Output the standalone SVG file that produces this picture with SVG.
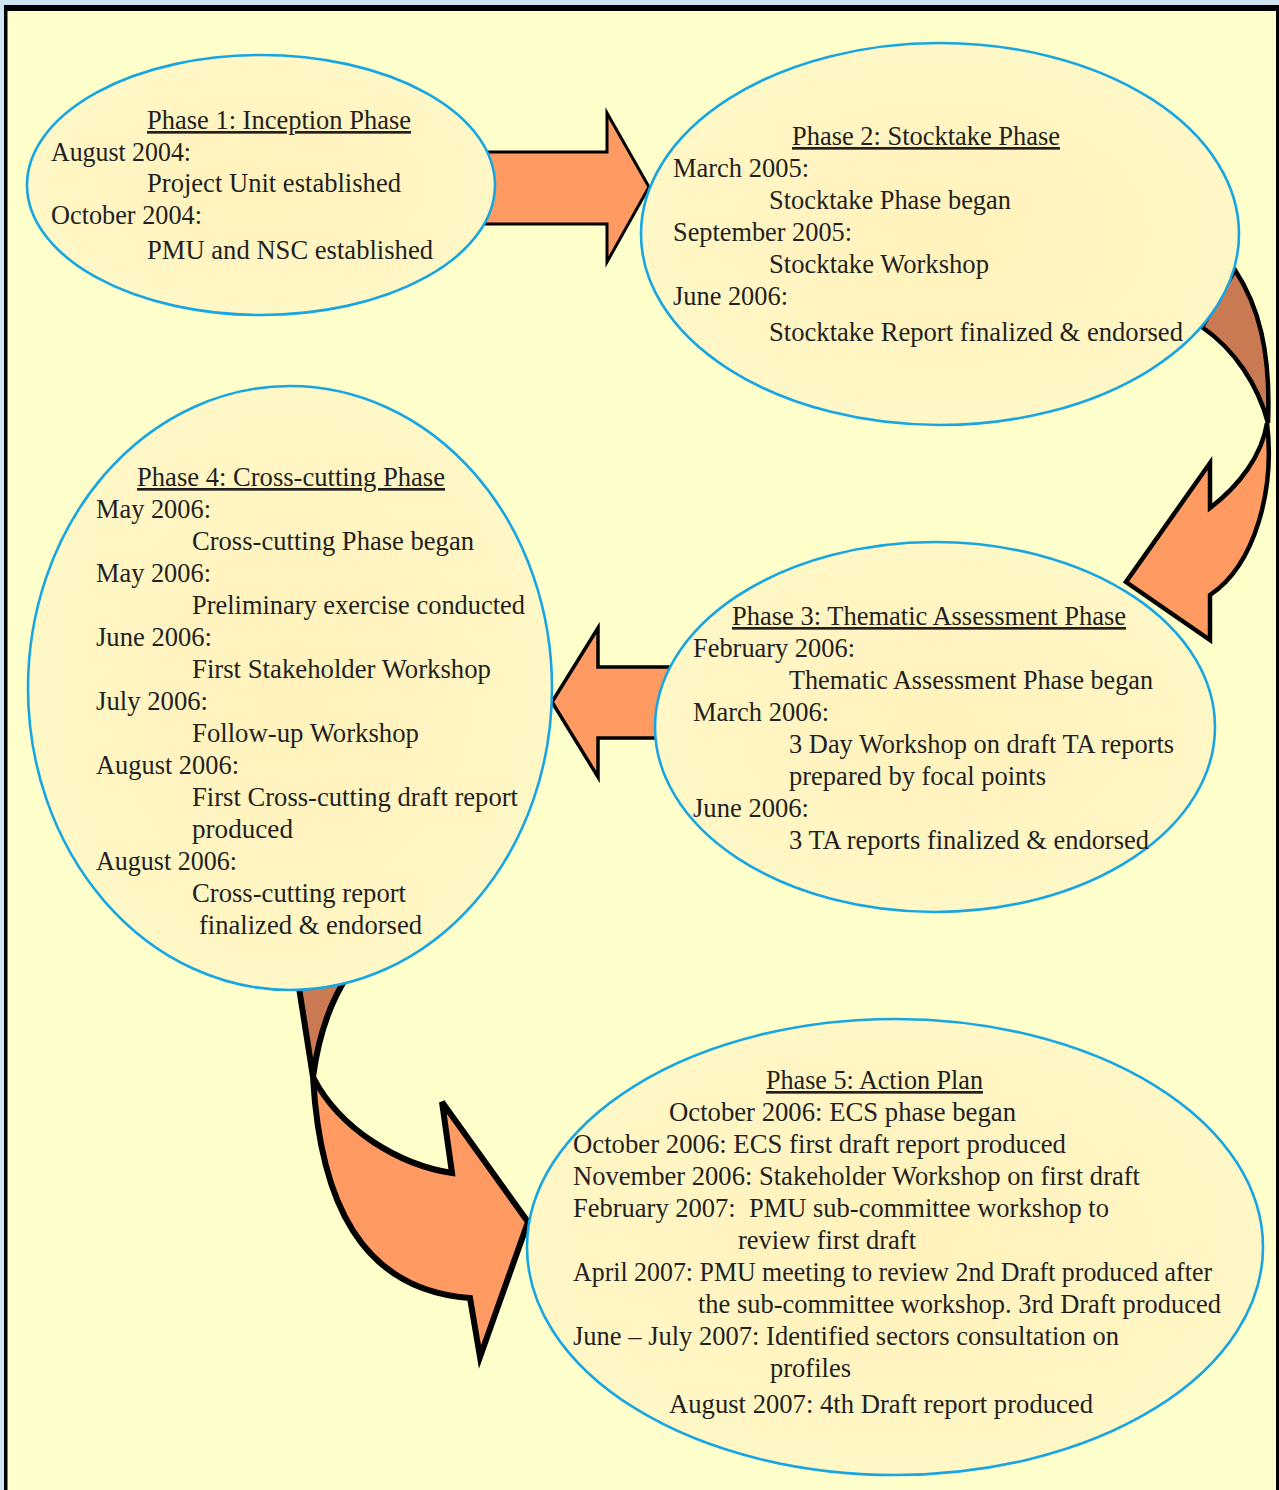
<svg xmlns="http://www.w3.org/2000/svg" width="1279" height="1490" viewBox="0 0 1279 1490">
<defs>
<radialGradient id="eg" cx="50%" cy="50%" r="60%">
<stop offset="0" stop-color="#FFF2BC"/>
<stop offset="1" stop-color="#FFF8C8"/>
</radialGradient>
<style>
.node ellipse{fill:url(#eg);stroke:#17A6E2;stroke-width:2.6}
text{font-family:"Liberation Serif","Times New Roman",serif;font-size:26.5px;fill:#231F20}
.t{text-decoration:underline}
.ar{fill:#FF9A62;stroke:#000;stroke-linejoin:miter}
.br{fill:#C97A53;stroke:#000;stroke-linejoin:miter}
</style>
</defs>
<rect x="0" y="0" width="1279" height="1490" fill="#CFE5F1"/>
<rect x="5.5" y="8.5" width="1272" height="1490" fill="#FFFFCC" stroke="#000" stroke-width="3"/>
<rect x="4" y="5" width="1275" height="6" fill="#000"/>
<rect x="4" y="5" width="3.5" height="1485" fill="#000"/>

<g id="connectors">
<path class="ar" stroke-width="3" d="M470,152 L607,152 L607,113 L649,187 L607,262 L607,224 L470,224 Z"/>
<path class="br" stroke-width="4.5" d="M1235,270 C1258,305 1271,350 1268,423 C1258,385 1235,350 1202,327 Z"/>
<path class="ar" stroke-width="4.5" d="M1267,423 C1275,490 1255,565 1210,595 L1210,640 L1126,582 L1210,463 L1210,508 C1240,485 1262,455 1267,423 Z"/>
<path class="ar" stroke-width="3.5" d="M680,667 L598,667 L598,628 L552,702 L598,777 L598,738 L680,738 Z"/>
<path class="br" stroke-width="6" d="M297,975 L313,1077 C318,1040 328,1005 348,975 Z"/>
<path class="ar" stroke-width="6" d="M313,1077 C320,1200 360,1290 470,1298 L480,1357 L528,1222 L442,1102 L452,1173 C400,1165 340,1130 313,1077 Z"/>
</g>

<g id="phase1" class="node">
<ellipse cx="261" cy="185" rx="234" ry="130"/>
<text class="t" x="147" y="129" textLength="264" lengthAdjust="spacingAndGlyphs">Phase 1: Inception Phase</text>
<text x="51" y="161" textLength="140" lengthAdjust="spacingAndGlyphs">August 2004:</text>
<text x="147" y="192" textLength="254" lengthAdjust="spacingAndGlyphs">Project Unit established</text>
<text x="51" y="224" textLength="151" lengthAdjust="spacingAndGlyphs">October 2004:</text>
<text x="147" y="259" textLength="286" lengthAdjust="spacingAndGlyphs">PMU and NSC established</text>
</g>

<g id="phase2" class="node">
<ellipse cx="940" cy="234" rx="299" ry="191"/>
<text class="t" x="792" y="145" textLength="268" lengthAdjust="spacingAndGlyphs">Phase 2: Stocktake Phase</text>
<text x="673" y="177" textLength="136" lengthAdjust="spacingAndGlyphs">March 2005:</text>
<text x="769" y="209" textLength="242" lengthAdjust="spacingAndGlyphs">Stocktake Phase began</text>
<text x="673" y="241" textLength="179" lengthAdjust="spacingAndGlyphs">September 2005:</text>
<text x="769" y="273" textLength="220" lengthAdjust="spacingAndGlyphs">Stocktake Workshop</text>
<text x="673" y="305" textLength="115" lengthAdjust="spacingAndGlyphs">June 2006:</text>
<text x="769" y="341" textLength="414" lengthAdjust="spacingAndGlyphs">Stocktake Report finalized &amp; endorsed</text>
</g>

<g id="phase4" class="node">
<ellipse cx="290" cy="688" rx="262" ry="302"/>
<text class="t" x="137" y="486" textLength="308" lengthAdjust="spacingAndGlyphs">Phase 4: Cross-cutting Phase</text>
<text x="96" y="518" textLength="115" lengthAdjust="spacingAndGlyphs">May 2006:</text>
<text x="192" y="550" textLength="282" lengthAdjust="spacingAndGlyphs">Cross-cutting Phase began</text>
<text x="96" y="582" textLength="115" lengthAdjust="spacingAndGlyphs">May 2006:</text>
<text x="192" y="614" textLength="333" lengthAdjust="spacingAndGlyphs">Preliminary exercise conducted</text>
<text x="96" y="646" textLength="116" lengthAdjust="spacingAndGlyphs">June 2006:</text>
<text x="192" y="678" textLength="299" lengthAdjust="spacingAndGlyphs">First Stakeholder Workshop</text>
<text x="96" y="710" textLength="112" lengthAdjust="spacingAndGlyphs">July 2006:</text>
<text x="192" y="742" textLength="227" lengthAdjust="spacingAndGlyphs">Follow-up Workshop</text>
<text x="96" y="774" textLength="143" lengthAdjust="spacingAndGlyphs">August 2006:</text>
<text x="192" y="806" textLength="326" lengthAdjust="spacingAndGlyphs">First Cross-cutting draft report</text>
<text x="192" y="838" textLength="101" lengthAdjust="spacingAndGlyphs">produced</text>
<text x="96" y="870" textLength="141" lengthAdjust="spacingAndGlyphs">August 2006:</text>
<text x="192" y="902" textLength="214" lengthAdjust="spacingAndGlyphs">Cross-cutting report</text>
<text x="199" y="934" textLength="223" lengthAdjust="spacingAndGlyphs">finalized &amp; endorsed</text>
</g>

<g id="phase3" class="node">
<ellipse cx="935" cy="727" rx="280" ry="185"/>
<text class="t" x="732" y="625" textLength="394" lengthAdjust="spacingAndGlyphs">Phase 3: Thematic Assessment Phase</text>
<text x="693" y="657" textLength="162" lengthAdjust="spacingAndGlyphs">February 2006:</text>
<text x="789" y="689" textLength="364" lengthAdjust="spacingAndGlyphs">Thematic Assessment Phase began</text>
<text x="693" y="721" textLength="136" lengthAdjust="spacingAndGlyphs">March 2006:</text>
<text x="789" y="753" textLength="385" lengthAdjust="spacingAndGlyphs">3 Day Workshop on draft TA reports</text>
<text x="789" y="785" textLength="257" lengthAdjust="spacingAndGlyphs">prepared by focal points</text>
<text x="693" y="817" textLength="116" lengthAdjust="spacingAndGlyphs">June 2006:</text>
<text x="789" y="849" textLength="360" lengthAdjust="spacingAndGlyphs">3 TA reports finalized &amp; endorsed</text>
</g>

<g id="phase5" class="node">
<ellipse cx="895" cy="1247" rx="368" ry="228"/>
<text class="t" x="766" y="1089" textLength="217" lengthAdjust="spacingAndGlyphs">Phase 5: Action Plan</text>
<text x="669" y="1121" textLength="347" lengthAdjust="spacingAndGlyphs">October 2006: ECS phase began</text>
<text x="573" y="1153" textLength="493" lengthAdjust="spacingAndGlyphs">October 2006: ECS first draft report produced</text>
<text x="573" y="1185" textLength="567" lengthAdjust="spacingAndGlyphs">November 2006: Stakeholder Workshop on first draft</text>
<text x="573" y="1217" xml:space="preserve" textLength="536" lengthAdjust="spacingAndGlyphs">February 2007:  PMU sub-committee workshop to</text>
<text x="738" y="1249" textLength="178" lengthAdjust="spacingAndGlyphs">review first draft</text>
<text x="573" y="1281" textLength="639" lengthAdjust="spacingAndGlyphs">April 2007: PMU meeting to review 2nd Draft produced after</text>
<text x="698" y="1313" textLength="523" lengthAdjust="spacingAndGlyphs">the sub-committee workshop. 3rd Draft produced</text>
<text x="573" y="1345" textLength="546" lengthAdjust="spacingAndGlyphs">June – July 2007: Identified sectors consultation on</text>
<text x="770" y="1377" textLength="81" lengthAdjust="spacingAndGlyphs">profiles</text>
<text x="669" y="1413" textLength="424" lengthAdjust="spacingAndGlyphs">August 2007: 4th Draft report produced</text>
</g>
</svg>
